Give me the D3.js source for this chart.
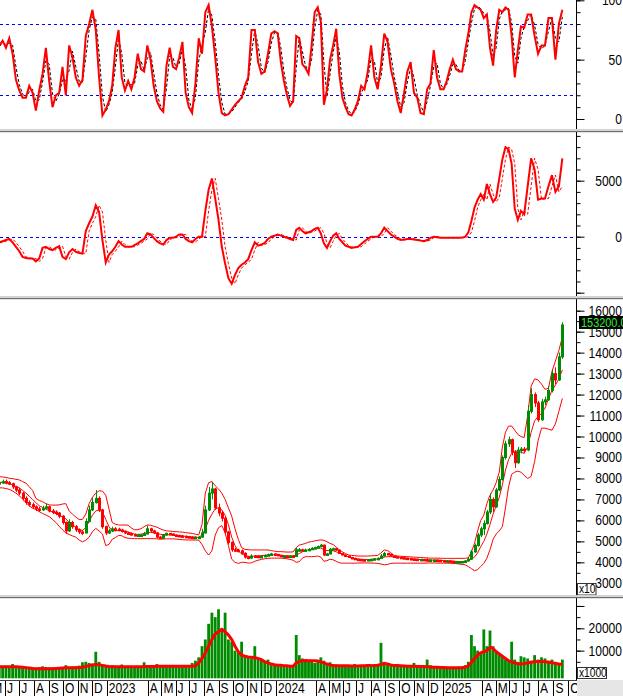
<!DOCTYPE html>
<html><head><meta charset="utf-8">
<script src="https://cdn.jsdelivr.net/npm/d3@7/dist/d3.min.js"></script>
<style>html,body{margin:0;padding:0;background:#fff;overflow:hidden}svg{display:block}</style>
</head><body><svg id="chart" width="623" height="696"></svg>
<script>
// ---------- DATA (weekly samples) ----------
const startDate = "2022-05-20";
const stepDays = 7;

const stochK = [62,66,60,68,55,33,24,18,18,28,
22,7,24,38,60,32,10,20,22,44,
20,62,52,35,28,33,70,80,92,75,
35,3,8,15,28,60,75,35,24,32,
25,35,55,42,40,62,50,28,15,9,
6,45,60,44,42,52,65,22,10,5,
30,68,55,90,96,78,52,22,5,3,
4,8,12,15,18,28,35,75,75,48,
38,40,55,72,74,72,48,32,20,11,
15,70,68,46,43,38,62,90,94,82,
12,25,50,62,76,38,18,10,4,3,
8,15,28,25,40,62,35,25,45,72,
65,42,30,15,5,22,40,48,22,18,
5,4,25,30,58,35,25,25,32,42,
50,42,40,40,58,72,90,96,94,92,
85,88,60,45,75,92,90,94,92,70,
35,58,78,77,88,88,70,55,62,62,
85,85,50,80,92];

const stochD = [61,64,63,64,62,44,29,21,18,23,
25,15,16,31,49,46,21,15,21,33,
32,41,57,44,32,31,52,75,86,84,
55,19,6,12,22,44,68,55,30,28,
29,30,45,49,41,51,56,39,22,12,
8,26,53,52,43,47,59,44,16,8,
18,49,62,73,93,87,65,37,14,4,
4,6,10,14,17,23,32,55,75,62,
43,39,48,64,73,73,60,40,26,16,
13,43,69,57,45,41,50,76,92,88,
47,19,38,56,69,57,28,14,7,4,
6,12,22,27,33,51,49,30,35,59,
69,54,36,23,10,14,31,44,35,20,
12,5,15,28,44,47,30,25,29,37,
46,46,41,40,49,65,81,93,95,93,
89,87,74,53,60,84,91,92,93,81,
53,47,68,78,83,88,79,63,59,62,
74,85,68,65,86];

const macd = [-500,-400,-300,-200,-500,-900,-1300,-1800,-1900,-1950,
-1950,-2200,-1950,-1000,-900,-1100,-1200,-1000,-850,-1800,
-2000,-1400,-1100,-1350,-1450,-1500,500,1200,1800,2800,
2200,-300,-2300,-1600,-1300,-900,-400,-700,-900,-900,
-900,-750,-600,-400,-200,300,200,-100,-400,-600,
-700,-300,-100,-100,0,200,200,-200,-400,-500,
-200,0,0,2300,4200,5200,3400,1500,-900,-2400,
-3700,-4200,-3400,-2800,-2500,-2300,-2000,-1200,-500,-800,
-700,-550,-200,0,100,200,100,0,-100,-200,
-300,600,800,500,300,400,500,700,800,300,
-600,-1000,-400,100,300,-200,-500,-800,-900,-1000,
-950,-900,-650,-400,-200,0,0,0,300,800,
500,200,0,-200,-300,-250,-200,-200,-250,-300,
-350,-400,-300,-100,0,-50,-100,-100,-100,-100,
-100,-100,-100,-80,0,400,1400,2600,3300,3800,
3300,4700,3800,3100,3500,5200,6900,8000,7800,6500,
2500,1500,2300,2000,4500,7000,6000,3300,3400,3400,
4500,5500,4000,4500,7000];

const signal = [-550,-500,-400,-300,-200,-500,-900,-1300,-1800,-1900,
-1950,-1950,-2200,-1950,-1000,-900,-1100,-1200,-1000,-850,
-1800,-2000,-1400,-1100,-1350,-1450,-1500,500,1200,1800,
2800,2200,-300,-2300,-1600,-1300,-900,-400,-700,-900,
-900,-900,-750,-600,-400,-200,300,200,-100,-400,
-600,-700,-300,-100,-100,0,200,200,-200,-400,
-500,-200,0,0,2300,4200,5200,3400,1500,-900,
-2400,-3700,-4200,-3400,-2800,-2500,-2300,-2000,-1200,-500,
-800,-700,-550,-200,0,100,200,100,0,-100,
-200,-300,600,800,500,300,400,500,700,800,
300,-600,-1000,-400,100,300,-200,-500,-800,-900,
-1000,-950,-900,-650,-400,-200,0,0,0,300,
800,500,200,0,-200,-300,-250,-200,-200,-250,
-300,-350,-400,-300,-100,0,-50,-100,-100,-100,
-100,-100,-100,-100,-80,0,400,1400,2600,3300,
3800,3300,4700,3800,3100,3500,5200,6900,8000,7800,
6500,2500,1500,2300,2000,4500,7000,6000,3300,3400,
3400,4500,5500,4000,4500];

const open = [7750,7800,7850,7800,7750,7600,7450,7300,7050,6850,
6750,6650,6550,6500,6580,6650,6450,6400,6350,6200,
5900,5500,5900,5700,5550,5450,5400,5950,6500,6850,
7050,6500,5700,5400,5500,5600,5580,5540,5480,5400,
5370,5320,5300,5300,5300,5350,5600,5500,5400,5200,
5150,5300,5380,5350,5300,5280,5260,5240,5220,5200,
5190,5195,5200,5400,6500,7300,7500,6600,6350,6100,
5450,4950,4600,4580,4550,4430,4250,4200,4300,4290,
4270,4280,4330,4360,4400,4380,4330,4300,4300,4290,
4300,4280,4600,4600,4590,4590,4620,4670,4700,4750,
4820,4350,4400,4620,4650,4580,4420,4350,4300,4230,
4190,4150,4140,4120,4110,4130,4140,4170,4190,4300,
4420,4380,4300,4270,4240,4220,4200,4180,4160,4150,
4140,4140,4120,4110,4110,4110,4100,4080,4070,4070,
4050,4030,4030,4030,4040,4060,4150,4500,4800,5300,
5600,5850,6400,7000,6650,7450,7950,9000,9650,9850,
9250,8750,9350,9400,9360,11200,12000,11600,10800,11650,
11750,12200,13000,12700,13800];

const high = [7900,7950,7950,7880,7800,7650,7550,7350,7150,6950,
6850,6720,6650,6700,6800,6700,6550,6480,6400,6250,
5950,6050,5980,5780,5620,5550,6100,6700,7100,7450,
7150,6550,5750,5600,5700,5680,5650,5600,5520,5450,
5420,5380,5360,5350,5450,5750,5650,5550,5450,5250,
5350,5420,5400,5380,5340,5320,5300,5280,5260,5240,
5240,5260,5600,6700,7600,7850,7550,6800,6450,6150,
5500,5000,4700,4650,4620,4480,4300,4380,4350,4330,
4340,4380,4420,4450,4430,4400,4360,4340,4330,4340,
4330,4700,4680,4650,4650,4680,4720,4750,4800,4880,
4840,4450,4680,4700,4680,4600,4450,4380,4320,4260,
4220,4180,4170,4150,4160,4170,4200,4230,4400,4500,
4450,4400,4320,4300,4270,4250,4230,4220,4190,4180,
4170,4160,4200,4140,4140,4130,4120,4100,4100,4090,
4070,4060,4050,4060,4100,4250,4600,4900,5400,5700,
6000,6500,7300,7100,7550,8100,9100,9800,10000,9900,
9350,9500,9500,9500,11500,12300,12100,11700,11800,11900,
12400,13200,13300,14000,15450];

const low = [7700,7750,7720,7680,7500,7350,7200,6950,6750,6650,
6550,6450,6400,6450,6500,6380,6300,6250,6100,5800,
5350,5450,5600,5450,5350,5300,5380,5900,6450,6800,
6400,5600,5300,5350,5450,5500,5480,5420,5350,5320,
5280,5250,5250,5240,5270,5330,5450,5350,5150,5100,
5120,5280,5300,5260,5240,5220,5200,5180,5160,5150,
5150,5160,5180,5380,6450,7000,6500,6200,5950,5350,
4850,4500,4500,4480,4380,4180,4150,4180,4230,4220,
4230,4250,4300,4330,4340,4300,4260,4260,4250,4250,
4240,4270,4520,4530,4530,4560,4600,4640,4670,4720,
4300,4300,4380,4580,4550,4400,4330,4280,4210,4170,
4130,4120,4100,4090,4100,4110,4120,4150,4180,4280,
4350,4280,4240,4220,4200,4180,4160,4140,4130,4120,
4110,4100,4090,4090,4080,4080,4060,4050,4050,4030,
4010,4010,4010,4010,4030,4050,4130,4450,4750,5200,
5300,5800,6300,6400,6600,7400,7900,8900,9500,9100,
8500,8700,9200,9200,9300,11100,11400,10700,10750,11500,
11700,12100,12500,12650,13700];

const close = [7800,7850,7800,7750,7600,7450,7300,7050,6850,6750,
6650,6550,6500,6580,6650,6450,6400,6350,6200,5900,
5500,5900,5700,5550,5450,5400,5950,6500,6850,7050,
6500,5700,5400,5500,5600,5580,5540,5480,5400,5370,
5320,5300,5300,5300,5350,5600,5500,5400,5200,5150,
5300,5380,5350,5300,5280,5260,5240,5220,5200,5190,
5195,5200,5400,6500,7300,7500,6600,6350,6100,5450,
4950,4600,4580,4550,4430,4250,4200,4300,4290,4270,
4280,4330,4360,4400,4380,4330,4300,4300,4290,4300,
4280,4600,4600,4590,4590,4620,4670,4700,4750,4820,
4350,4400,4620,4650,4580,4420,4350,4300,4230,4190,
4150,4140,4120,4110,4130,4140,4170,4190,4300,4420,
4380,4300,4270,4240,4220,4200,4180,4160,4150,4140,
4140,4120,4110,4110,4110,4100,4080,4070,4070,4050,
4030,4030,4030,4040,4060,4150,4500,4800,5300,5600,
5850,6400,7000,6650,7450,7950,9000,9650,9850,9250,
8750,9350,9400,9360,11200,12000,11600,10800,11650,11750,
12200,13000,12700,13800,15320];

const bbUpper = [8085,8070,8050,8010,7990,7960,7930,7850,7780,7600,
7430,7050,6950,6890,6800,6740,6730,6730,6740,6780,
6800,6450,6300,6160,6040,6050,6300,6800,7100,7300,
7410,7400,7200,6550,5900,5820,5780,5780,5780,5770,
5640,5550,5560,5600,5700,5780,5770,5720,5680,5600,
5540,5500,5490,5470,5460,5450,5440,5420,5400,5380,
5340,5310,5800,7300,7800,7850,7650,7500,7300,7000,
6600,6200,5600,5100,4700,4620,4600,4590,4590,4590,
4590,4590,4590,4560,4530,4510,4510,4500,4490,4490,
4500,4700,4820,4860,4900,4960,4990,5020,5050,5070,
5050,4980,4900,4850,4720,4600,4500,4420,4350,4330,
4320,4300,4300,4300,4300,4310,4320,4330,4450,4590,
4560,4450,4330,4300,4290,4280,4270,4260,4250,4240,
4230,4220,4210,4200,4200,4200,4195,4190,4190,4190,
4190,4190,4190,4190,4190,4220,4500,4900,5500,6000,
6250,6800,7200,7450,7800,8300,9500,10200,10500,10500,
10300,10100,10000,9950,11000,12400,12750,12700,12500,12250,
12300,13100,13600,14100,14750];

const bbMid = [7820,7810,7790,7750,7700,7620,7550,7430,7310,7150,
7000,6850,6700,6620,6540,6460,6400,6320,6240,6160,
6080,5900,5780,5680,5560,5520,5650,5950,6250,6450,
6500,6400,6050,5700,5500,5500,5530,5520,5480,5450,
5400,5340,5330,5340,5380,5420,5430,5420,5380,5340,
5320,5320,5310,5300,5290,5270,5250,5240,5220,5210,
5200,5190,5300,5600,6000,6300,6550,6600,6500,6250,
5800,5200,4800,4550,4400,4330,4290,4280,4300,4310,
4320,4330,4350,4360,4360,4350,4340,4320,4310,4300,
4300,4350,4420,4500,4560,4600,4620,4650,4680,4680,
4600,4560,4560,4550,4500,4450,4400,4320,4250,4200,
4170,4150,4140,4130,4130,4140,4150,4160,4200,4250,
4270,4270,4250,4230,4210,4190,4170,4160,4150,4140,
4130,4120,4115,4110,4105,4100,4090,4080,4070,4060,
4050,4045,4040,4040,4050,4080,4150,4250,4450,4750,
5000,5350,5800,6300,6700,7100,7700,8400,8900,9200,
9300,9300,9250,9200,9500,10200,10750,10950,11100,11350,
11800,12200,12450,12750,13170];

const bbLower = [7550,7550,7520,7480,7400,7300,7180,7020,6850,6700,
6580,6520,6420,6330,6260,6180,6050,5900,5720,5550,
5400,5330,5260,5200,5060,4980,5050,5200,5460,5620,
5500,5350,4800,4850,5100,5180,5280,5270,5180,5150,
5140,5130,5130,5130,5130,5130,5130,5130,5120,5110,
5110,5120,5120,5120,5110,5090,5080,5070,5065,5060,
5065,5060,4850,4550,4350,4550,5300,5650,5750,5400,
4800,4150,4000,3950,4000,4000,3960,3980,4050,4100,
4140,4170,4190,4200,4200,4200,4200,4190,4170,4140,
4100,4000,4030,4200,4270,4270,4270,4280,4300,4250,
4050,4080,4150,4120,4050,3980,3960,3960,3960,3960,
3960,3965,3970,3970,3970,3965,3960,3950,3920,3880,
3900,3950,3960,3960,3960,3960,3960,3960,3960,3960,
3960,3960,3965,3970,3970,3965,3960,3960,3960,3955,
3950,3940,3920,3900,3880,3800,3700,3600,3650,3800,
3950,4200,4600,5100,5350,5500,5700,6600,7600,8200,
8300,8350,8300,8150,8000,8100,8800,9800,10400,10400,
10350,10300,10600,11200,11820];

const volume = [3200,3000,3300,3100,4000,3000,2900,2800,2700,2600,
2500,2400,2600,3000,2700,2500,2400,2500,2600,2700,
3500,2800,2900,3000,3300,4800,5000,4500,4200,9500,
5000,3500,3200,3000,3500,3200,3000,3800,3000,3200,
2800,2900,3000,3000,4800,3500,3000,3200,4000,3000,
3200,2900,3000,3100,3000,3000,3500,3000,3300,4500,
5500,7000,12000,15000,22000,27000,25000,28500,20000,27000,
15000,14000,10000,9000,14000,8000,7000,6500,12000,6000,
6000,5500,6000,4000,3500,3200,3400,3000,3200,3000,
3500,17000,8000,6500,5500,5000,5000,4500,5500,7000,
5500,4500,4800,4000,3800,3500,3200,3500,3000,3200,
4000,3500,3400,3500,3200,3500,3000,4000,13500,5000,
4500,3500,3200,3500,3400,3300,3000,3500,4500,3200,
3000,3200,6000,3500,3000,2800,2900,2700,2800,2600,
2700,2600,2800,2900,3500,5000,17000,12000,10000,9000,
19500,12000,19000,12000,9000,8000,7500,6000,5500,14000,
6000,5000,7500,7000,6500,5500,8000,6000,7000,6500,
5500,6000,5000,4500,6000];

const volMA = [2800,2800,2800,2800,2800,2800,2700,2600,2400,2200,
2000,1900,1900,1900,1900,1900,1900,2000,2100,2200,
2300,2300,2400,2400,2500,2600,2900,3300,3600,3800,
3700,3400,3100,2900,2800,2800,2800,2800,2800,2800,
2800,2800,2800,2800,2900,2900,2900,2900,3000,3000,
3000,3000,3000,3000,3000,3000,3000,3000,3000,3000,
3200,4500,6500,9000,12000,15000,17500,18500,19500,18500,
17000,15000,12000,9500,8000,7500,7200,7000,6800,6500,
6000,5000,4500,4000,3700,3500,3500,3300,3200,3000,
3000,4500,5200,5500,5600,5500,5500,5500,5400,5000,
4500,4000,3600,3300,3200,3200,3200,3200,3200,3100,
3100,3100,3200,3200,3300,3300,3400,3500,3800,4200,
4000,3600,3300,3300,3200,3100,3000,3000,3000,2900,
2900,2900,2800,2700,2600,2600,2500,2500,2400,2400,
2300,2300,2300,2400,2600,3200,4800,6500,8000,9000,
9500,10000,11500,11000,9500,8500,7500,6500,5500,5000,
4500,4200,4000,4200,4500,4800,5000,5200,5200,5000,
4800,4600,4300,4000,3800];

const stochLevels = [20, 80];
const stochTicks = [0,10,20,30,40,50,60,70,80,90,100];
const stochLabels = [0, 50, 100];
const macdTicks = [-5000,-4000,-3000,-2000,-1000,0,1000,2000,3000,4000,5000,6000,7000,8000,9000];
const macdLabels = [0, 5000];
const priceTicks = d3.range(3000, 16001, 500);
const priceLabels = d3.range(3000, 16001, 1000);
const volTicks = [0,5000,10000,15000,20000,25000,30000];
const volLabels = [10000, 20000];
const lastPriceLabel = "153200.0";
const monthTicks = ["2022-05-01","2022-06-01","2022-07-01","2022-08-01","2022-09-01","2022-10-01","2022-11-01","2022-12-01",
"2023-01-01","2023-04-01","2023-05-01","2023-06-01","2023-07-01","2023-08-01","2023-09-01","2023-10-01","2023-11-01","2023-12-01",
"2024-01-01","2024-04-01","2024-05-01","2024-06-01","2024-07-01","2024-08-01","2024-09-01","2024-10-01","2024-11-01","2024-12-01",
"2025-01-01","2025-04-01","2025-05-01","2025-06-01","2025-07-01","2025-08-01","2025-09-01","2025-10-01"];
const monthLetters = ["J","F","M","A","M","J","J","A","S","O","N","D"];

// ---------- DRAWING ----------
const svg = d3.select("#chart");
const FONT = '"Liberation Sans", Arial, sans-serif';
const RED = "#ff0000", GREEN = "#008c00", BLUE = "#0000ff";
const parse = d3.utcParse("%Y-%m-%d");
const t0 = parse(startDate);
const dates = close.map((_, i) => d3.utcDay.offset(t0, i * stepDays));

const x = d3.scaleUtc()
  .domain(["2022-06-01","2023-01-01","2023-07-01","2024-01-01","2024-07-01","2025-01-01","2025-07-01","2025-10-01"].map(parse))
  .range([5,106.7,189.3,276,356,442.7,522.7,568.3]);

const AX = 576.5;
const panels = {
  st: {top:0, bottom:129, y:d3.scaleLinear().domain([0,100]).range([119,0.3])},
  mc: {top:132, bottom:296, y:d3.scaleLinear().domain([0,5000]).range([236.7,180.7])},
  pr: {top:299, bottom:595, y:d3.scaleLinear().domain([3000,16000]).range([583.3,310.7])},
  vo: {top:598, bottom:679, y:d3.scaleLinear().domain([0,20000]).range([673,628.3])}
};

svg.append("rect").attr("width",623).attr("height",696).attr("fill","#fff");
const defs = svg.append("defs");
Object.entries(panels).forEach(([k,p]) => {
  defs.append("clipPath").attr("id","clip-"+k).append("rect")
    .attr("x",0).attr("y",p.top).attr("width",AX-0.5).attr("height",p.bottom-p.top);
  p.g = svg.append("g").attr("clip-path",`url(#clip-${k})`);
});

function lineOf(scaleY, arr){
  return d3.line().x((d,i)=>x(dates[i])).y(d=>scaleY(d))(arr);
}

// Panel 1: stochastic
{
  const p = panels.st;
  stochLevels.forEach(v => p.g.append("line").attr("x1",0).attr("x2",AX).attr("y1",Math.round(p.y(v))+0.5).attr("y2",Math.round(p.y(v))+0.5)
    .attr("stroke",BLUE).attr("stroke-width",1).attr("stroke-dasharray","3,3"));
  p.g.append("path").attr("d",lineOf(p.y,stochD)).attr("fill","none").attr("stroke","#000").attr("stroke-width",1).attr("stroke-dasharray","3,2");
  p.g.append("path").attr("d",lineOf(p.y,stochK)).attr("fill","none").attr("stroke",RED).attr("stroke-width",2);
}
// Panel 2: MACD
{
  const p = panels.mc;
  p.g.append("line").attr("x1",0).attr("x2",AX).attr("y1",Math.round(p.y(0))+0.5).attr("y2",Math.round(p.y(0))+0.5)
    .attr("stroke",BLUE).attr("stroke-width",1).attr("stroke-dasharray","3,3");
  p.g.append("path").attr("d",lineOf(p.y,signal)).attr("fill","none").attr("stroke",RED).attr("stroke-width",1).attr("stroke-dasharray","3,2");
  p.g.append("path").attr("d",lineOf(p.y,macd)).attr("fill","none").attr("stroke",RED).attr("stroke-width",2);
}
// Panel 3: price
{
  const p = panels.pr;
  [bbUpper,bbMid,bbLower].forEach(arr => p.g.append("path").attr("d",lineOf(p.y,arr)).attr("fill","none").attr("stroke",RED).attr("stroke-width",1));
  const cg = p.g.append("g");
  close.forEach((c,i) => {
    const o = open[i], col = c >= o ? GREEN : RED;
    const cx = Math.round(x(dates[i])) + 0.5;
    cg.append("line").attr("x1",cx).attr("x2",cx).attr("y1",p.y(high[i])).attr("y2",p.y(low[i])).attr("stroke",col).attr("stroke-width",1);
    const y1 = p.y(Math.max(o,c)), y2 = p.y(Math.min(o,c));
    cg.append("rect").attr("x",cx-1.5).attr("width",3).attr("y",y1-0.5).attr("height",Math.max(2.5,y2-y1+1)).attr("fill",col);
  });
}
// Panel 4: volume
{
  const p = panels.vo;
  p.g.selectAll("rect.v").data(volume).enter().append("rect")
    .attr("x",(d,i)=>x(dates[i])-1.4).attr("width",2.8)
    .attr("y",d=>p.y(d)).attr("height",d=>Math.max(0,678.3-p.y(d))).attr("fill",GREEN);
  p.g.append("path").attr("d",lineOf(p.y,volMA)).attr("fill","none").attr("stroke",RED).attr("stroke-width",3);
}

// text helper (glyphs slightly condensed like the source)
function txt(px, py, str, anchor, opt={}){
  return svg.append("text").attr("transform",`translate(${px},${py}) scale(${opt.sx||0.86},1)`)
    .attr("text-anchor",anchor).attr("font-family",FONT).attr("font-size",opt.size||14)
    .attr("fill",opt.fill||"#000").text(str);
}

// Right axes
function axisTicks(p, minor, major){
  const gm = svg.append("g").attr("transform",`translate(${AX},0)`)
    .call(d3.axisRight(p.y).tickValues(minor).tickSize(4).tickFormat("").tickSizeOuter(0));
  gm.select(".domain").remove();
  const gM = svg.append("g").attr("transform",`translate(${AX},0)`)
    .call(d3.axisRight(p.y).tickValues(major).tickSize(8).tickFormat("").tickSizeOuter(0));
  gM.select(".domain").remove();
  svg.selectAll(".tick line").attr("stroke","#000");
}
axisTicks(panels.st, stochTicks, stochLabels);
axisTicks(panels.mc, macdTicks, [-5000,0,5000]);
axisTicks(panels.pr, priceTicks, priceLabels);
axisTicks(panels.vo, volTicks, [0,10000,20000,30000]);
svg.append("line").attr("x1",AX).attr("x2",AX).attr("y1",0).attr("y2",680).attr("stroke","#000").attr("stroke-width",1);

stochLabels.forEach(v => txt(622, panels.st.y(v)+5, String(v), "end"));
macdLabels.forEach(v => txt(622, panels.mc.y(v)+5, String(v), "end"));
priceLabels.forEach(v => txt(622, panels.pr.y(v)+5, String(v), "end"));
volLabels.forEach(v => txt(622, panels.vo.y(v)+5, String(v), "end"));

// last price box
{
  const yy = panels.pr.y(close[close.length-1]);
  svg.append("rect").attr("x",579).attr("y",yy-9).attr("width",50).attr("height",13).attr("fill","#000");
  txt(581, yy+2, lastPriceLabel, "start", {fill:"#33ee33", size:13, sx:0.84});
}
// multiplier boxes
svg.append("rect").attr("x",577.5).attr("y",583.5).attr("width",18.5).attr("height",11.5).attr("fill","#fff").attr("stroke","#333");
txt(579, 593, "x10", "start", {size:12, sx:0.85});
svg.append("rect").attr("x",577.5).attr("y",667.5).attr("width",29).attr("height",11).attr("fill","#fff").attr("stroke","#333");
txt(579, 677, "x1000", "start", {size:12, sx:0.85});

// panel separators
[[129,131],[296,298],[595,597]].forEach(([a,b]) => {
  svg.append("rect").attr("x",0).attr("y",a).attr("width",623).attr("height",b-a).attr("fill","#d4d4d4");
  svg.append("rect").attr("x",0).attr("y",b).attr("width",623).attr("height",1.2).attr("fill","#707070");
});

// bottom time axis
svg.append("rect").attr("x",0).attr("y",680).attr("width",623).attr("height",16).attr("fill","#fff");
svg.append("line").attr("x1",0).attr("x2",577).attr("y1",680.5).attr("y2",680.5).attr("stroke","#404040");
monthTicks.forEach(m => {
  const d = parse(m), px = x(d);
  const xl = Math.round(px) + 0.5;
  svg.append("line").attr("x1",xl).attr("x2",xl).attr("y1",681).attr("y2",696).attr("stroke","#000");
  const lab = d.getUTCMonth() === 0 ? String(d.getUTCFullYear()) : monthLetters[d.getUTCMonth()];
  txt(px + 2, 693, lab, "start");
});
svg.append("rect").attr("x",577).attr("y",680).attr("width",46).attr("height",16).attr("fill","#e6e6e6");
</script></body></html>
